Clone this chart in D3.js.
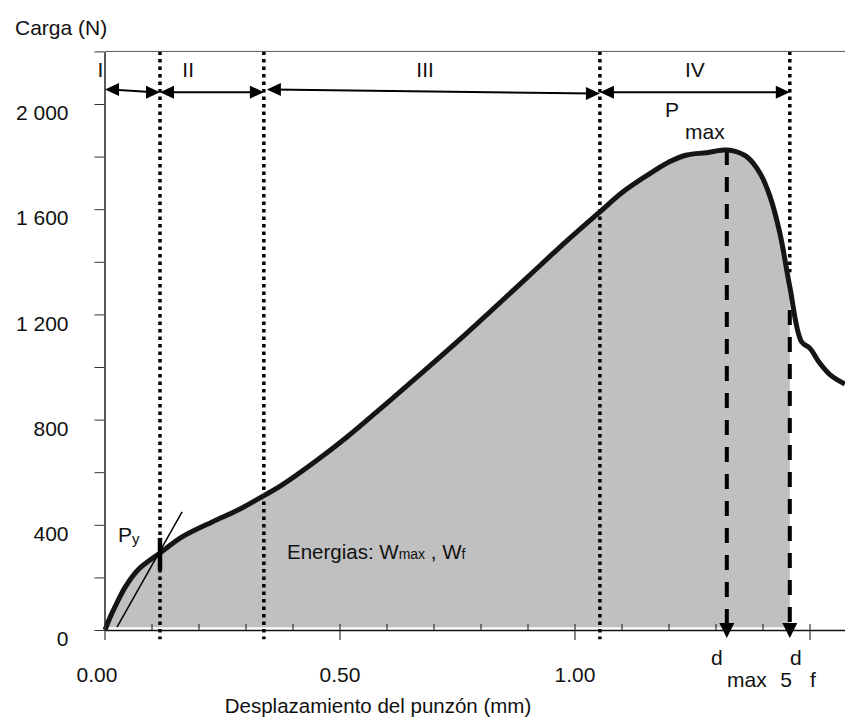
<!DOCTYPE html>
<html>
<head>
<meta charset="utf-8">
<script src="https://cdn.jsdelivr.net/npm/d3@7"></script>
<style>
  body { margin: 0; background: #fff; }
  svg { display: block; font-family: "Liberation Sans", Arial, sans-serif; }
</style>
</head>
<body>
<svg id="chart" width="845" height="720"></svg>
<script>
// ===========
// Data
// ===========

// displacement (mm) and load (N)
var disp = [0, 0.010, 0.021, 0.043, 0.070, 0.096, 0.117, 0.164, 0.228, 0.283, 0.340,
            0.372, 0.443, 0.515, 0.585, 0.655, 0.755, 0.898, 0.968, 1.053, 1.103,
            1.160, 1.202, 1.238, 1.280, 1.316, 1.337, 1.365, 1.394, 1.415, 1.436,
            1.457, 1.482, 1.500, 1.521, 1.543, 1.574];
var load = [0, 45, 87, 163, 228, 266, 293, 354, 411, 456, 513,
            546, 635, 734, 840, 948, 1105, 1340, 1456, 1590, 1667,
            1736, 1781, 1806, 1815, 1825, 1822, 1800, 1736, 1648, 1508,
            1305, 1096, 1071, 1014, 970, 935];

var regionEdges = [0, 0.117, 0.338, 1.053, 1.457];
var regionNames = ['I', 'II', 'III', 'IV'];
var regionLabelX = [-0.01, 0.177, 0.681, 1.255];
var arrowLoads = [[2055, 2045], [2045, 2045], [2055, 2040], [2045, 2045]];

var dMax = 1.323, pMax = 1825;
var dF = 1.457;
var yieldDisp = 0.117, yieldMark = [228, 350];
var tangent = [[0.0255, 11], [0.164, 449]];

var yTicks = d3.range(0, 2201, 200);
var yLabels = [0, 400, 800, 1200, 1600, 2000];
var xTicks = d3.range(0, 1.51, 0.1);
var xMajor = [0, 0.5, 1.0, 1.5];
var xLabels = [0, 0.5, 1.0];

var points = disp.map(function(d, i){ return {x: d, y: load[i]}; });

// ===========
// Scales
// ===========

var svg = d3.select('#chart');
var x = d3.scaleLinear().domain([0, 1.6]).range([105, 105 + 1.6 * 470]);
var y = d3.scaleLinear().domain([0, 2200]).range([630, 51.4]);
var fmt = d3.formatLocale({decimal: '.', thousands: ' ', grouping: [3], currency: ['', '']}).format(',');
var smooth = d3.curveCatmullRom.alpha(0.5);

// ===========
// Fill + curve
// ===========

var area = d3.area()
    .x(function(d){ return x(d.x); })
    .y0(y(10))
    .y1(function(d){ return y(d.y); })
    .curve(smooth);

svg.append('path')
    .datum(points.filter(function(d){ return d.x <= dF + 1e-9; }))
    .attr('d', area)
    .attr('fill', '#c0c0c0');

// region boundaries (dotted)
svg.selectAll('.bound')
    .data(regionEdges.slice(1))
    .enter().append('line')
    .attr('class', 'bound')
    .attr('x1', function(d){ return x(d); })
    .attr('x2', function(d){ return x(d); })
    .attr('y1', y(2200))
    .attr('y2', function(d){ return d === dF ? y(1360) : y(-35); })
    .attr('stroke', '#000')
    .attr('stroke-width', 3.5)
    .attr('stroke-dasharray', '3.5,4');

// dashed drop lines with arrowheads
var drops = [{x: dMax, top: pMax}, {x: dF, top: 1217}];
svg.selectAll('.drop')
    .data(drops)
    .enter().append('line')
    .attr('x1', function(d){ return x(d.x); })
    .attr('x2', function(d){ return x(d.x); })
    .attr('y1', function(d){ return y(d.top); })
    .attr('y2', y(0) - 6)
    .attr('stroke', '#000')
    .attr('stroke-width', 4)
    .attr('stroke-dasharray', '15,12');

svg.selectAll('.droparrow')
    .data(drops)
    .enter().append('path')
    .attr('d', function(d){
        var cx = x(d.x), tip = y(0) + 8;
        return 'M' + (cx - 7.5) + ',' + (tip - 15) + 'L' + (cx + 7.5) + ',' + (tip - 15) + 'L' + cx + ',' + tip + 'Z';
    })
    .attr('fill', '#000');

var line = d3.line()
    .x(function(d){ return x(d.x); })
    .y(function(d){ return y(d.y); })
    .curve(smooth);

svg.append('path')
    .datum(points)
    .attr('d', line)
    .attr('fill', 'none')
    .attr('stroke', '#151515')
    .attr('stroke-width', 5)
    .attr('stroke-linejoin', 'round');

// tangent + yield mark
svg.append('line')
    .attr('x1', x(tangent[0][0])).attr('y1', y(tangent[0][1]))
    .attr('x2', x(tangent[1][0])).attr('y2', y(tangent[1][1]))
    .attr('stroke', '#000').attr('stroke-width', 1.5);

svg.append('line')
    .attr('x1', x(yieldDisp)).attr('x2', x(yieldDisp))
    .attr('y1', y(yieldMark[0])).attr('y2', y(yieldMark[1]))
    .attr('stroke', '#000').attr('stroke-width', 4.5);

// ===========
// Axes
// ===========

svg.append('line')
    .attr('x1', x(0)).attr('x2', 845)
    .attr('y1', y(2200)).attr('y2', y(2200))
    .attr('stroke', '#555').attr('stroke-width', 1);

var yAxis = svg.append('g')
    .attr('transform', 'translate(' + (x(0) - 0.5) + ',0)')
    .call(d3.axisLeft(y).tickValues(yTicks).tickSize(10).tickSizeOuter(0)
          .tickPadding(26)
          .tickFormat(function(d){ return yLabels.indexOf(d) >= 0 ? fmt(d) : ''; }));
yAxis.select('.domain').attr('stroke', '#222').attr('stroke-width', 1.5);
yAxis.selectAll('.tick line').attr('stroke', '#333');
yAxis.selectAll('.tick text')
    .attr('font-size', 21).attr('fill', '#111')
    .attr('font-family', '"Liberation Sans", Arial, sans-serif')
    .attr('dy', '0.75em');

svg.append('line')
    .attr('x1', x(0)).attr('x2', 845)
    .attr('y1', y(0) + 0.5).attr('y2', y(0) + 0.5)
    .attr('stroke', '#111').attr('stroke-width', 1.5);

svg.selectAll('.xtick')
    .data(xTicks)
    .enter().append('line')
    .attr('x1', function(d){ return x(d); })
    .attr('x2', function(d){ return x(d); })
    .attr('y1', y(0) - 6)
    .attr('y2', function(d){
        var major = xMajor.some(function(m){ return Math.abs(m - d) < 1e-6; });
        return major ? y(0) + 10 : y(0);
    })
    .attr('stroke', '#333').attr('stroke-width', 1.2);

svg.selectAll('.xlabel')
    .data(xLabels)
    .enter().append('text')
    .attr('x', function(d){ return x(d) + (d === 0 ? -8 : 0); })
    .attr('y', 682)
    .attr('text-anchor', 'middle')
    .attr('font-size', 21)
    .attr('fill', '#111')
    .text(function(d){ return d3.format('.2f')(d); });

// ===========
// Annotations
// ===========

function txt(xp, yp, s, size, anchor){
    return svg.append('text')
        .attr('x', xp).attr('y', yp)
        .attr('font-size', size || 21)
        .attr('text-anchor', anchor || 'start')
        .attr('fill', '#111')
        .text(s);
}

txt(15, 35, 'Carga (N)', 21);
txt(378, 713, 'Desplazamiento del punzón (mm)', 20.5, 'middle');

// region arrows
regionNames.forEach(function(name, i){
    var x1 = x(regionEdges[i]), x2 = x(regionEdges[i + 1]);
    if (i === 2) x1 += 3;
    var y1 = y(arrowLoads[i][0]), y2 = y(arrowLoads[i][1]);
    svg.append('line')
        .attr('x1', x1 + 6).attr('x2', x2 - 6)
        .attr('y1', y1).attr('y2', y2)
        .attr('stroke', '#000').attr('stroke-width', 2);
    svg.append('path')
        .attr('d', 'M' + x1 + ',' + y1 + 'L' + (x1 + 14) + ',' + (y1 - 6.5) + 'L' + (x1 + 14) + ',' + (y1 + 6.5) + 'Z')
        .attr('fill', '#000');
    svg.append('path')
        .attr('d', 'M' + x2 + ',' + y2 + 'L' + (x2 - 14) + ',' + (y2 - 6.5) + 'L' + (x2 - 14) + ',' + (y2 + 6.5) + 'Z')
        .attr('fill', '#000');
    txt(x(regionLabelX[i]), 77, name, 21, 'middle');
});

txt(665, 117, 'P', 21);
txt(685, 139, 'max', 21);

var py = txt(118, 542, 'P', 21);
py.append('tspan').attr('font-size', 15).attr('dy', 2).text('y');

var en = txt(287, 559, 'Energias: W', 20.5);
en.append('tspan').attr('font-size', 14).text('max');
en.append('tspan').text(' , W');
en.append('tspan').attr('font-size', 14).text('f');

txt(x(dMax) - 10, 665, 'd', 21, 'middle');
txt(727, 687, 'max', 21);
txt(786, 687, '5', 21, 'middle');
txt(x(dF) + 6, 665, 'd', 21, 'middle');
txt(813, 687, 'f', 21, 'middle');
</script>
</body>
</html>
